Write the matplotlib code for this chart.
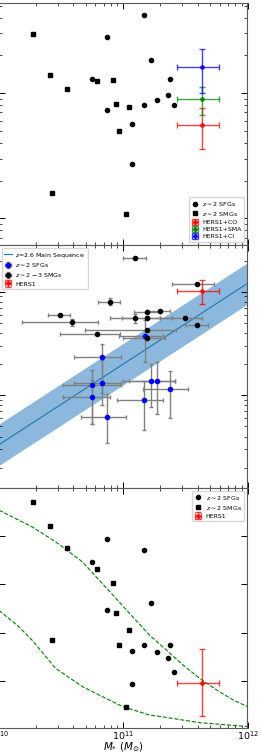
import numpy as np
import matplotlib
matplotlib.use("Agg")
import matplotlib.pyplot as plt

# ---- data (log10 stellar masses) ----
# top panel: gas-to-stellar mass ratio (log10)
top_sfg_logm = [11.172, 10.875, 11.226, 11.374, 10.752, 11.358, 11.274, 11.172, 11.408, 10.875, 11.075, 11.075]
top_sfg_logy = [0.626, 0.448, 0.266, 0.109, 0.109, -0.016, -0.054, -0.096, -0.096, -0.131, -0.246, -0.563]
top_smg_logm = [10.280, 10.412, 10.552, 10.794, 10.916, 10.945, 11.045, 10.964, 10.431, 11.024]
top_smg_logy = [0.474, 0.144, 0.034, 0.098, 0.104, -0.086, -0.107, -0.304, -0.795, -0.966]

hers_mstar, hers_mstar_err = 4.3e11, 1.6e11
hers_top = {"CO": (0.555, 0.20), "SMA": (0.89, 0.22), "CI": (1.63, 0.62)}
hers_top_colors = {"CO": "red", "SMA": "green", "CI": "blue"}

# middle panel: SFR (log10), errors as (low, high) edges in log10
mid_smg_logm = [11.095, 11.598, 10.895, 10.493, 10.592, 11.196, 11.295, 11.095, 11.196, 11.497, 11.598, 11.196, 10.794, 11.196]
mid_smg_logm_lo = [10.996, 11.396, 10.800, 10.394, 10.188, 11.091, 11.196, 10.895, 10.994, 11.295, 11.497, 10.695, 10.493, 10.996]
mid_smg_logm_hi = [11.185, 11.732, 10.978, 10.574, 10.798, 11.301, 11.379, 11.295, 11.390, 11.635, 11.683, 11.425, 10.975, 11.336]
mid_smg_logsfr = [3.328, 3.077, 2.903, 2.775, 2.705, 2.801, 2.811, 2.751, 2.751, 2.751, 2.679, 2.627, 2.589, 2.550]
mid_smg_logsfr_lo = [3.318, 3.067, 2.872, 2.765, 2.669, 2.791, 2.801, 2.698, 2.741, 2.741, 2.669, 2.617, 2.579, 2.540]
mid_smg_logsfr_hi = [3.338, 3.087, 2.936, 2.785, 2.736, 2.811, 2.821, 2.785, 2.761, 2.761, 2.689, 2.637, 2.599, 2.560]

mid_sfg_logm = [11.174, 10.835, 10.749, 10.835, 10.749, 10.875, 11.172, 11.226, 11.274, 11.376]
mid_sfg_logm_lo = [10.970, 10.608, 10.520, 10.606, 10.520, 10.660, 10.954, 11.002, 11.051, 11.164]
mid_sfg_logm_hi = [11.320, 10.980, 10.980, 10.983, 10.897, 11.021, 11.320, 11.414, 11.414, 11.522]
mid_sfg_logsfr = [2.577, 2.370, 2.099, 2.114, 1.981, 1.788, 1.955, 2.141, 2.141, 2.061]
mid_sfg_logsfr_lo = [2.321, 2.022, 1.723, 1.906, 1.723, 1.540, 1.665, 1.887, 1.820, 1.781]
mid_sfg_logsfr_hi = [2.727, 2.495, 2.244, 2.341, 2.148, 2.013, 2.141, 2.302, 2.322, 2.235]

hers_sfr, hers_sfr_err = 1020.0, 265.0

ms_logm = [10.0, 12.0]
ms_logsfr = [1.52, 3.08]
ms_scatter = 0.2  # dex

# bottom panel: gas fraction
bot_sfg_logm = [10.875, 10.752, 11.172, 11.226, 10.875, 11.172, 11.374, 11.075, 11.274, 11.358, 11.408, 11.075]
bot_sfg_y = [0.788, 0.694, 0.741, 0.521, 0.494, 0.350, 0.350, 0.322, 0.318, 0.296, 0.237, 0.185]
bot_smg_logm = [10.280, 10.412, 10.552, 10.794, 10.916, 10.945, 11.045, 10.964, 10.431, 11.024]
bot_smg_y = [0.941, 0.844, 0.751, 0.664, 0.605, 0.480, 0.411, 0.347, 0.368, 0.091]
hers_bot, hers_bot_err = 0.192, 0.14

curve_hi_logm = [10.0, 10.269, 10.458, 10.673, 10.808, 10.943, 11.077, 11.212, 11.347, 11.481, 11.616, 11.751, 11.886, 12.0]
curve_hi_y = [0.909, 0.839, 0.777, 0.694, 0.618, 0.542, 0.466, 0.390, 0.328, 0.266, 0.210, 0.162, 0.120, 0.093]
curve_lo_logm = [10.0, 10.162, 10.269, 10.458, 10.673, 10.808, 10.997, 11.212, 11.347, 11.616, 12.0]
curve_lo_y = [0.494, 0.425, 0.369, 0.252, 0.176, 0.141, 0.093, 0.058, 0.048, 0.026, 0.010]


def p(a):
    return 10 ** np.asarray(a, dtype=float)


fig = plt.figure(figsize=(2.61, 7.56), dpi=100)
W, H = 261.0, 756.0
left, width = -1.5 / W, 249.0 / W
ax1 = fig.add_axes([left, 1 - 245 / H, width, 241.7 / H])
ax2 = fig.add_axes([left, 1 - 488 / H, width, 243 / H])
ax3 = fig.add_axes([left, 1 - 728 / H, width, 240 / H])

ms = 3
leg_kw = dict(fontsize=4.5, handlelength=1.2, borderpad=0.4, labelspacing=0.3, handletextpad=0.6)

# top
ax1.plot(p(top_sfg_logm), p(top_sfg_logy), "o", color="k", ms=ms, label=r"$z\sim2$ SFGs", ls="none")
ax1.plot(p(top_smg_logm), p(top_smg_logy), "s", color="k", ms=ms, label=r"$z\sim2$ SMGs", ls="none")
for key in ["CO", "SMA", "CI"]:
    val, err = hers_top[key]
    ax1.errorbar(hers_mstar, val, xerr=hers_mstar_err, yerr=err, fmt="o", ms=2.5,
                 color=hers_top_colors[key], alpha=0.75, capsize=2, elinewidth=1,
                 label="HERS1+" + key)
ax1.set_yscale("log")
ax1.set_ylim(10 ** -1.2136, 10 ** 0.7176)
ax1.legend(loc="lower right", **leg_kw)

# middle
ax2.fill_between(p(ms_logm), p(np.array(ms_logsfr) - ms_scatter), p(np.array(ms_logsfr) + ms_scatter),
                 color="#8bb8dc", lw=0)
ax2.plot(p(ms_logm), p(ms_logsfr), color="tab:blue", lw=0.8, label=r"$z$=2.6 Main Sequence")
x = p(mid_sfg_logm)
y = p(mid_sfg_logsfr)
ax2.errorbar(x, y, xerr=[x - p(mid_sfg_logm_lo), p(mid_sfg_logm_hi) - x],
             yerr=[y - p(mid_sfg_logsfr_lo), p(mid_sfg_logsfr_hi) - y],
             fmt="o", color="blue", ecolor="gray", ms=ms, capsize=1.5, elinewidth=1,
             label=r"$z\sim2$ SFGs")
x = p(mid_smg_logm)
y = p(mid_smg_logsfr)
ax2.errorbar(x, y, xerr=[x - p(mid_smg_logm_lo), p(mid_smg_logm_hi) - x],
             yerr=[y - p(mid_smg_logsfr_lo), p(mid_smg_logsfr_hi) - y],
             fmt="o", color="k", ecolor="gray", ms=ms, capsize=1.5, elinewidth=1,
             label=r"$z\sim2-3$ SMGs")
ax2.errorbar(hers_mstar, hers_sfr, xerr=hers_mstar_err, yerr=hers_sfr_err, fmt="o", ms=2.5,
             color="red", alpha=0.75, capsize=2, elinewidth=1, label="HERS1")
ax2.set_yscale("log")
ax2.set_ylim(10 ** 1.105, 10 ** 3.451)
ax2.legend(loc="upper left", **leg_kw)

# bottom
ax3.plot(p(curve_hi_logm), curve_hi_y, "--", color="green", lw=0.8)
ax3.plot(p(curve_lo_logm), curve_lo_y, "--", color="green", lw=0.8)
ax3.plot(p(bot_sfg_logm), bot_sfg_y, "o", color="k", ms=ms, ls="none", label=r"$z\sim2$ SFGs")
ax3.plot(p(bot_smg_logm), bot_smg_y, "s", color="k", ms=ms, ls="none", label=r"$z\sim2$ SMGs")
ax3.errorbar(hers_mstar, hers_bot, xerr=hers_mstar_err, yerr=hers_bot_err, fmt="o", ms=2.5,
             color="red", alpha=0.75, capsize=2, elinewidth=1, label="HERS1")
ax3.set_ylim(0.004, 1.0)
ax3.set_yticks([0.2, 0.4, 0.6, 0.8])
ax3.legend(loc="upper right", **leg_kw)
ax3.set_xlabel(r"$M_{*}$ $(M_{\odot})$", fontsize=7.5, labelpad=-0.8)

for ax in (ax1, ax2, ax3):
    ax.set_xscale("log")
    ax.set_xlim(1e10, 1e12)
    ax.tick_params(which="both", direction="in", top=True, right=True, labelleft=False)
    ax.tick_params(which="major", length=4, width=0.7)
    ax.tick_params(which="minor", length=2, width=0.5)
    for s in ax.spines.values():
        s.set_color("0.35")
        s.set_linewidth(0.8)
for ax in (ax1, ax2):
    ax.tick_params(labelbottom=False)
ax3.tick_params(axis="x", labelsize=6.8, pad=1)

fig.savefig("out.png", dpi=100)
